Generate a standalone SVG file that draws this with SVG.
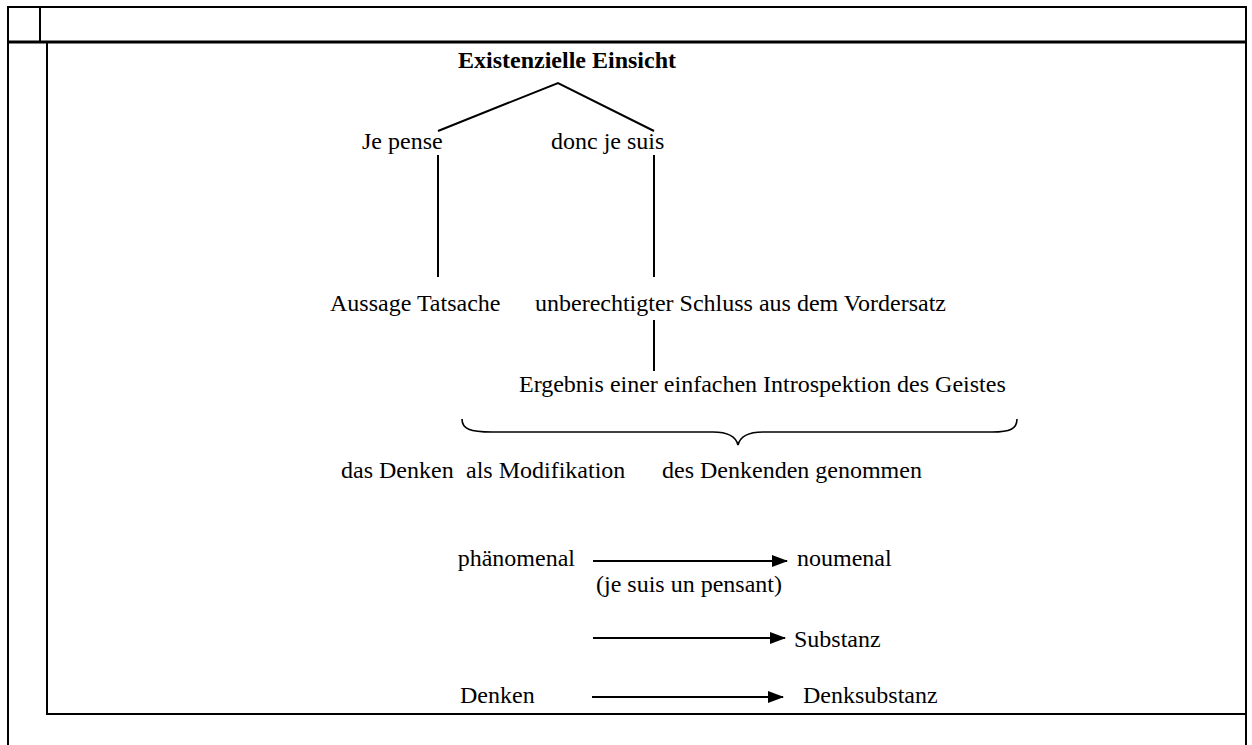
<svg xmlns="http://www.w3.org/2000/svg" width="1252" height="745" viewBox="0 0 1252 745">
  <style>
    .rule { stroke: #000; stroke-width: 2; fill: none; }
    .thick { stroke: #000; stroke-width: 3; fill: none; }
    .edge { stroke: #000; stroke-width: 2; fill: none; }
    .brace { stroke: #000; stroke-width: 1.6; fill: none; }
    text { font-family: "Liberation Serif", "Times New Roman", serif; font-size: 24px; fill: #000; }
    .title { font-weight: bold; }
    .end { text-anchor: end; }
  </style>
  <defs>
    <marker id="head" markerWidth="16" markerHeight="12" refX="15" refY="6" orient="auto" markerUnits="userSpaceOnUse">
      <path d="M0,0 L16,6 L0,12 Z" fill="#000"/>
    </marker>
  </defs>
  <rect width="1252" height="745" fill="#fff"/>

  <!-- table frame -->
  <g id="frame">
    <line class="rule" x1="7" y1="7" x2="1247" y2="7"/>
    <line class="rule" x1="8" y1="6" x2="8" y2="745"/>
    <line class="rule" x1="1246" y1="6" x2="1246" y2="745"/>
    <line class="rule" x1="40" y1="7" x2="40" y2="42"/>
    <line class="thick" x1="8" y1="42" x2="1246" y2="42"/>
    <line class="rule" x1="47" y1="42" x2="47" y2="715"/>
    <line class="rule" x1="46" y1="714" x2="1246" y2="714"/>
  </g>

  <!-- connectors -->
  <g id="connectors">
    <polyline class="edge" points="438,131 558,83 654,131"/>
    <line class="edge" x1="438" y1="155" x2="438" y2="277"/>
    <line class="edge" x1="654" y1="155" x2="654" y2="277"/>
    <line class="edge" x1="654" y1="320" x2="654" y2="371"/>
    <path class="brace" d="M462,419 C462,429 470,432 492,432 L713,432 C729,432 736,437 738,445 C740,437 747,432 763,432 L992,432 C1010,432 1017,429 1017,419"/>
    <line class="edge" x1="593" y1="561" x2="787" y2="561" marker-end="url(#head)"/>
    <line class="edge" x1="593" y1="638" x2="785" y2="638" marker-end="url(#head)"/>
    <line class="edge" x1="592" y1="697" x2="783" y2="697" marker-end="url(#head)"/>
  </g>

  <g id="n-title"><text class="title" x="458" y="68">Existenzielle Einsicht</text></g>
  <g id="n-je-pense"><text x="362" y="149">Je pense</text></g>
  <g id="n-donc"><text x="551" y="149">donc je suis</text></g>
  <g id="n-aussage"><text x="330" y="311">Aussage Tatsache</text></g>
  <g id="n-schluss"><text x="946" y="311" class="end">unberechtigter Schluss aus dem Vordersatz</text></g>
  <g id="n-ergebnis"><text x="519" y="392">Ergebnis einer einfachen Introspektion des Geistes</text></g>
  <g id="n-denken-mod">
    <text x="341" y="478">das Denken</text>
    <text x="466" y="478">als Modifikation</text>
    <text x="662" y="478">des Denkenden genommen</text>
  </g>
  <g id="n-phaenomenal"><text x="575" y="566" class="end">phänomenal</text></g>
  <g id="n-noumenal"><text x="797" y="566">noumenal</text></g>
  <g id="n-pensant"><text x="596" y="592">(je suis un pensant)</text></g>
  <g id="n-substanz"><text x="794" y="647">Substanz</text></g>
  <g id="n-denken"><text x="460" y="703">Denken</text></g>
  <g id="n-denksubstanz"><text x="803" y="703">Denksubstanz</text></g>
</svg>
